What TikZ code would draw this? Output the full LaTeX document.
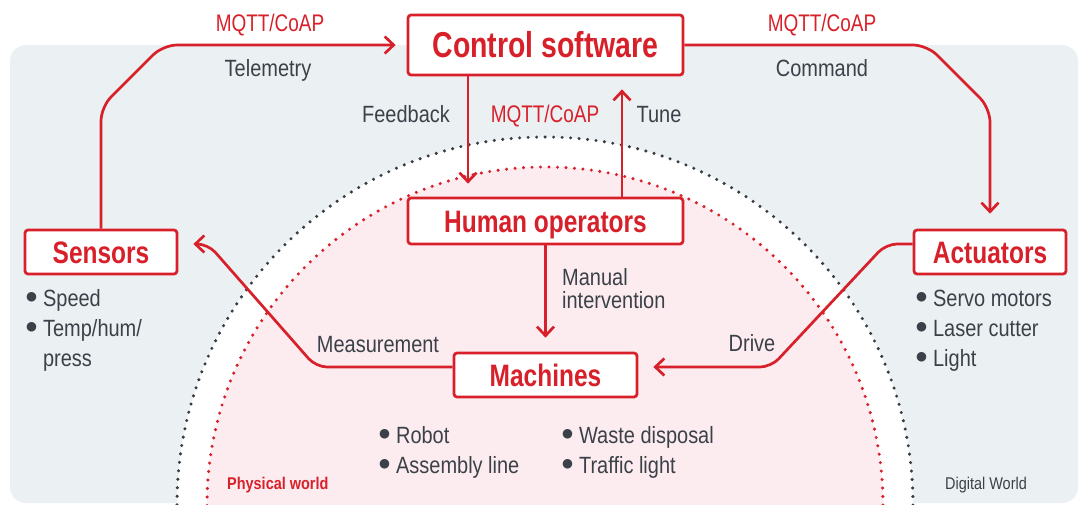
\documentclass[tikz,border=0pt]{standalone}
\usepackage{fontspec}
\setmainfont{Liberation Sans}[FakeStretch=0.85]
\newfontfamily\headfont{Liberation Sans}[FakeStretch=0.79]
\newfontfamily\dotfont{DejaVu Sans}
\usetikzlibrary{arrows.meta,calc}

\definecolor{brandred}{HTML}{D8202A}
\definecolor{ink}{HTML}{3B4148}
\definecolor{panel}{HTML}{EBF0F3}
\definecolor{blush}{HTML}{FDECEF}
\definecolor{dotgray}{HTML}{363C42}

% list marker: a solid round dot in a small size, raised to mid-letter height
\newcommand{\bulmark}{\raisebox{5.5pt}{\dotfont\fontsize{12.5}{0}\selectfont ●}}
\newcommand{\bul}{\bulmark\hspace{6pt}}
\newcommand{\bulsp}{\hphantom{\bulmark}\hspace{6pt}}

\begin{document}
\begin{tikzpicture}[x=1pt,y=-1pt,
  box/.style={draw=brandred, line width=2.7pt, fill=white, rounded corners=3pt,
    text=brandred, font=\headfont\bfseries\fontsize{31}{31}\selectfont,
    text height=22pt, text depth=0pt, inner sep=0pt},
  conn/.style={draw=brandred, line width=2.7pt, rounded corners=14pt,
    -{Straight Barb[length=9pt,width=17pt]}},
  lbl/.style={text=ink, font=\fontsize{23.5}{30}\selectfont, inner sep=0pt, anchor=base},
  proto/.style={lbl, text=brandred, font=\headfont\fontsize{24}{30}\selectfont},
  listing/.style={lbl, anchor=base west},
  dotline/.style={line width=3.4pt, line cap=round, dash pattern=on 0pt off 8.5pt},
]
\useasboundingbox (0,0) rectangle (1080,504);

% panel and the two nested worlds
\fill[panel, rounded corners=16pt] (10,45) rectangle (1078,503);
\begin{scope}
  \clip (0,0) rectangle (1080,504);
  \fill[white] (545,505) circle[radius=368pt];
  \fill[blush] (545,505) circle[radius=338pt];
  \draw[dotline, dotgray] (545,505) circle[radius=368pt];
  \draw[dotline, brandred] (545,505) circle[radius=338pt];
\end{scope}

% main blocks
\node[box, minimum width=275pt, minimum height=60pt,
      font=\headfont\bfseries\fontsize{36}{36}\selectfont, text height=25.8pt] (ctrl) at (545.5,45) {Control software};
\node[box, minimum width=275pt, minimum height=46pt] (hum) at (545.5,221) {Human operators};
\node[box, minimum width=152pt, minimum height=44pt] (sens) at (101,252) {Sensors};
\node[box, minimum width=152pt, minimum height=44pt] (act) at (990,252) {Actuators};
\node[box, minimum width=183pt, minimum height=44pt] (mach) at (545.5,375) {Machines};

% connectors
\draw[conn, shorten >=11pt] (sens.north) -- (101,107) -- (163,45) -- (ctrl.west);
\draw[conn, shorten >=15pt] (ctrl.east) -- (927,45) -- (990,108) -- (act.north);
\draw[conn, shorten >=13pt] ([xshift=-77.5pt]ctrl.south) -- ([xshift=-77.5pt]hum.north);
\draw[conn, shorten >=13pt] ([xshift=76.5pt]hum.north) -- ([xshift=76.5pt]ctrl.south);
\draw[conn, shorten >=14pt] (hum.south) -- (mach.north);
\draw[conn, rounded corners=11pt] ([yshift=8pt]mach.west) -- (316,367) -- (208,244)
      -- ([xshift=15pt,yshift=8pt]sens.east);
\draw[conn, rounded corners=11pt] ([yshift=8pt]act.west) -- (886,244) -- (771,367)
      -- ([xshift=15pt,yshift=8pt]mach.east);

% connector labels
\node[proto] (pTele) at (270,31) {MQTT/CoAP};
\node[lbl] (tele) at (268,76) {Telemetry};
\node[proto] (pCmd) at (822,31) {MQTT/CoAP};
\node[lbl] (cmd) at (822,76) {Command};
\node[lbl] (fb) at (406,122) {Feedback};
\node[proto] (pMid) at (545,122) {MQTT/CoAP};
\node[lbl] (tune) at (659,122) {Tune};
\node[listing, font=\fontsize{23.5}{23}\selectfont] (manual) at (562,285)
  {\begin{tabular}[t]{@{}l@{}}Manual\\intervention\end{tabular}};
\node[lbl] (meas) at (378,352) {Measurement};
\node[lbl] (drive) at (752,351) {Drive};

% item lists
\node[listing] (sensList) at (26,306)
  {\begin{tabular}[t]{@{}l@{}}\bul Speed\\\bul Temp/hum/\\\bulsp press\end{tabular}};
\node[listing] (actList) at (916,306)
  {\begin{tabular}[t]{@{}l@{}}\bul Servo motors\\\bul Laser cutter\\\bul Light\end{tabular}};
\node[listing] (machListA) at (379,443)
  {\begin{tabular}[t]{@{}l@{}}\bul Robot\\\bul Assembly line\end{tabular}};
\node[listing] (machListB) at (562,443)
  {\begin{tabular}[t]{@{}l@{}}\bul Waste disposal\\\bul Traffic light\end{tabular}};

% world captions
\node[anchor=base west, inner sep=0pt, text=brandred,
      font=\bfseries\fontsize{17}{20}\selectfont] (phys) at (227,489) {Physical world};
\node[anchor=base west, inner sep=0pt, text=ink,
      font=\fontsize{17}{20}\selectfont] (digi) at (945,489) {Digital World};
\end{tikzpicture}
\end{document}
